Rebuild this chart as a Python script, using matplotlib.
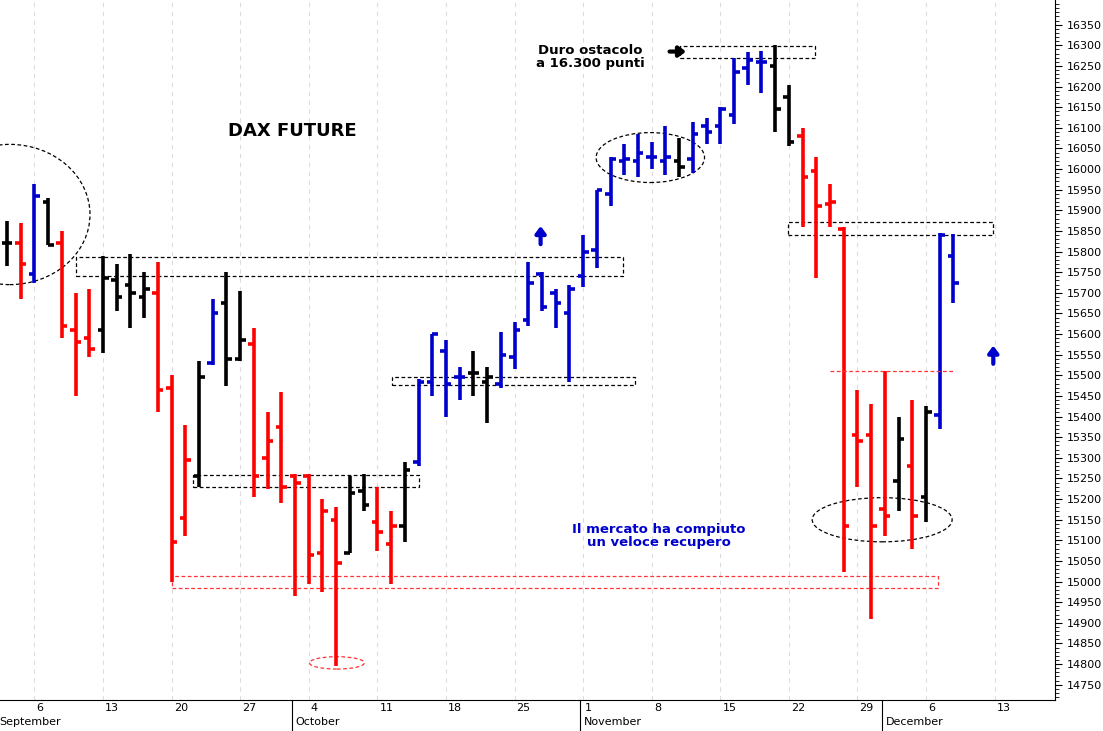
import matplotlib
matplotlib.use("Agg")
import matplotlib.pyplot as plt
from matplotlib.patches import Ellipse, Rectangle
import numpy as np
import pandas as pd

# Daily DAX future bars, 2 Sep 2021 - 8 Dec 2021
dates = pd.bdate_range("2021-09-02", "2021-12-08")
opens = [15820, 15820, 15745, 15920, 15820, 15610, 15590, 15610, 15730, 15720,
         15690, 15700, 15470, 15155, 15255, 15530, 15675, 15540, 15575, 15300,
         15375, 15255, 15255, 15070, 15150, 15070, 15220, 15145, 15090, 15135,
         15290, 15485, 15560, 15495, 15505, 15485, 15480, 15545, 15635, 15745,
         15700, 15650, 15740, 15805, 15940, 16020, 16020, 16030, 16020, 16020,
         16025, 16105, 16105, 16130, 16245, 16260, 16250, 16175, 16080, 15995,
         15915, 15855, 15355, 15355, 15175, 15245, 15280, 15205, 15405, 15790]
highs = [15875, 15870, 15965, 15930, 15850, 15700, 15710, 15790, 15770, 15795,
         15750, 15775, 15500, 15380, 15535, 15685, 15750, 15705, 15615, 15410,
         15460, 15260, 15260, 15200, 15180, 15255, 15260, 15230, 15170, 15290,
         15490, 15600, 15585, 15520, 15560, 15520, 15605, 15630, 15775, 15750,
         15710, 15720, 15840, 15950, 16030, 16060, 16085, 16065, 16105, 16075,
         16115, 16125, 16150, 16270, 16285, 16287, 16300, 16205, 16100, 16030,
         15965, 15860, 15465, 15430, 15511, 15400, 15440, 15425, 15845, 15843]
lows = [15765, 15685, 15725, 15815, 15590, 15450, 15545, 15555, 15655, 15615,
        15640, 15410, 15000, 15110, 15230, 15525, 15475, 15535, 15205, 15225,
        15190, 14965, 14995, 14975, 14795, 15070, 15170, 15075, 14995, 15095,
        15280, 15450, 15400, 15440, 15450, 15385, 15470, 15515, 15620, 15655,
        15615, 15485, 15715, 15760, 15910, 15985, 15980, 16000, 15985, 15980,
        15990, 16060, 16060, 16110, 16205, 16185, 16090, 16055, 15860, 15735,
        15860, 15024, 15230, 14910, 15110, 15170, 15080, 15145, 15370, 15675]
closes = [15820, 15770, 15935, 15815, 15620, 15580, 15565, 15735, 15690, 15700,
          15710, 15465, 15095, 15295, 15495, 15650, 15540, 15585, 15255, 15340,
          15230, 15240, 15065, 15170, 15045, 15215, 15185, 15120, 15135, 15270,
          15485, 15600, 15480, 15495, 15505, 15495, 15550, 15610, 15725, 15665,
          15675, 15710, 15800, 15950, 16025, 16025, 16040, 16030, 16030, 16005,
          16085, 16090, 16145, 16235, 16265, 16260, 16145, 16065, 15980, 15910,
          15920, 15135, 15340, 15135, 15160, 15345, 15160, 15410, 15840, 15725]
bar_colors = list("krbkrrrkkkkrrrkbkkrrrrrrrkkrrkbbbbkkbbbbbbbbbbbbbkbbbbbbkkrrrrrrrkrkbb")

color_map = {"k": "black", "r": "#ff0000", "b": "#0000cc"}

fig = plt.figure(figsize=(11.03, 7.31), dpi=100)
ax = fig.add_axes([0.0, 1 - 700 / 731, 1055 / 1103, 700 / 731])

x = np.arange(len(dates))
for i in x:
    c = color_map[bar_colors[i]]
    ax.vlines(i, lows[i], highs[i], color=c, linewidth=2.6)
    ax.hlines(opens[i], i - 0.4, i, color=c, linewidth=2.6)
    ax.hlines(closes[i], i, i + 0.4, color=c, linewidth=2.6)

ax.set_xlim(-0.51, 76.4)
ax.set_ylim(14713, 16410)

# vertical dashed grid on Mondays, day labels
mondays = [i for i, d in enumerate(dates) if d.weekday() == 0] + [len(dates) + 2]
day_labels = [str(d.day) for d in dates if d.weekday() == 0] + ["13"]
xt = ax.get_xaxis_transform()
for m, lab in zip(mondays, day_labels):
    ax.axvline(m, color="#dddddd", linestyle=(0, (4, 4)), linewidth=0.8, zorder=0)
    ax.text(m + 0.15, -0.004, lab, transform=xt, ha="left", va="top", fontsize=8)
ax.set_xticks([])

month_names = ["September", "October", "November", "December"]
month_starts = [-0.6, 21, 42, 64]
for ms, name in zip(month_starts, month_names):
    if ms > 0:
        ax.plot([ms - 0.2, ms - 0.2], [0.0, -0.045], transform=xt,
                color="black", linewidth=0.8, clip_on=False)
    ax.text(ms + 0.05, -0.024, name, transform=xt, ha="left", va="top", fontsize=8)

# right price axis
ax.yaxis.tick_right()
ax.set_yticks(np.arange(14750, 16351, 50))
ax.set_yticks(np.arange(14720, 16410, 10), minor=True)
ax.tick_params(axis="y", labelsize=8, length=5, direction="out")
ax.tick_params(axis="y", which="minor", length=3)
ax.spines["left"].set_visible(False)
ax.spines["top"].set_visible(False)

# support / resistance boxes
boxes = [(5.03, 44.9, 15741, 15788, "black"),
         (13.56, 30.0, 15230, 15259, "black"),
         (28.1, 45.8, 15477, 15497, "black"),
         (49.05, 58.9, 16270, 16299, "black"),
         (56.9, 71.9, 15841, 15872, "black"),
         (12.0, 67.9, 14985, 15014, "#ff3333")]
for x0, x1, y0, y1, c in boxes:
    ax.add_patch(Rectangle((x0, y0), x1 - x0, y1 - y0, fill=False, edgecolor=c,
                           linestyle=(0, (3, 2)), linewidth=0.9))
ax.hlines(15511, 60, 69.1, color="#ff3333", linestyle=(0, (3, 2)), linewidth=0.9)

ellipses = [(0.2, 15890, 11.7, 340, "black"),
            (46.9, 16028, 7.9, 121, "black"),
            (63.8, 15150, 10.2, 107, "black"),
            (24.05, 14803, 4.0, 30, "#ff3333")]
for cx, cy, w, h, c in ellipses:
    ax.add_patch(Ellipse((cx, cy), w, h, fill=False, edgecolor=c,
                         linestyle=(0, (3, 2)), linewidth=0.9))

ax.text(20.8, 16093, "DAX FUTURE", fontsize=13, fontweight="bold", ha="center", va="center")
ax.text(42.5, 16272, "Duro ostacolo\na 16.300 punti", fontsize=9.5, fontweight="bold",
        ha="center", va="center", linespacing=1.0)
ax.annotate("", xy=(49.5, 16285), xytext=(48.3, 16285),
            arrowprops=dict(arrowstyle="-|>,head_width=0.3,head_length=0.4",
                            color="black", lw=3, shrinkA=0, shrinkB=0))
ax.text(47.5, 15110, "Il mercato ha compiuto\nun veloce recupero", fontsize=9.5,
        fontweight="bold", color="#0000cc", ha="center", va="center", linespacing=1.0)
for bx, by in [(38.9, 15840), (71.9, 15550)]:
    ax.annotate("", xy=(bx, by + 22), xytext=(bx, by - 22),
                arrowprops=dict(arrowstyle="-|>,head_width=0.3,head_length=0.4",
                                color="#0000cc", lw=3, shrinkA=0, shrinkB=0))

fig.savefig("out.png", dpi=100)
